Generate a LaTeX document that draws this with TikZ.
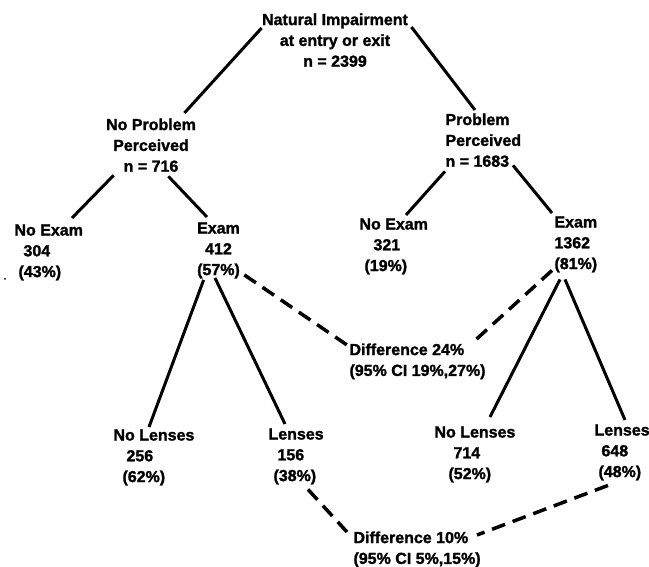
\documentclass[tikz,border=0pt]{standalone}
\usepackage{fontspec}
\setmainfont{Liberation Sans}[BoldFeatures = {FakeBold = 1.5}]
\begin{document}
\begin{tikzpicture}[x = 1pt, y = -1pt, line width = 3pt,
        every node/.style = {inner sep = 0pt, font = \fontsize{16}{20.8}\selectfont\bfseries},
        diff/.style = {line width = 3.5pt, dash pattern = on 14pt off 8pt}]

        \useasboundingbox (0, 0) rectangle (649, 567);

        \node (root) at (335, 12) [anchor = north, align = center] {Natural Impairment\\at entry or exit\\n = 2399};

        \node (np) at (151, 117) [anchor = north, align = center] {No Problem\\Perceived\\n = 716};
        \node (pp) at (444, 112) [anchor = north west, align = left] {Problem\\Perceived\\n = 1683};

        \node (ne1) at (13, 223) [anchor = north west, align = left] {No Exam\\\hspace*{9pt}304\\\hspace*{4pt}(43\%)};
        \node (ex1) at (218.5, 221) [anchor = north, align = center] {Exam\\412\\(57\%)};
        \node (ne2) at (358, 217) [anchor = north west, align = left] {No Exam\\\hspace*{14pt}321\\\hspace*{5pt}(19\%)};
        \node (ex2) at (553, 215) [anchor = north west, align = left] {Exam\\1362\\(81\%)};

        \node (nl1) at (112, 428) [anchor = north west, align = left] {No Lenses\\\hspace*{13pt}256\\\hspace*{9pt}(62\%)};
        \node (le1) at (267, 427) [anchor = north west, align = left] {Lenses\\\hspace*{9pt}156\\\hspace*{5pt}(38\%)};
        \node (nl2) at (433, 425) [anchor = north west, align = left] {No Lenses\\\hspace*{19pt}714\\\hspace*{14pt}(52\%)};
        \node (le2) at (593, 423) [anchor = north west, align = left] {Lenses\\\hspace*{7pt}648\\\hspace*{4pt}(48\%)};

        \node (d1) at (348, 342) [anchor = north west, align = left] {Difference 24\%\\(95\% CI 19\%,27\%)};
        \node (d2) at (352, 530) [anchor = north west, align = left] {Difference 10\%\\(95\% CI 5\%,15\%)};

        \draw ([shift = {(1, 16)}]root.north west) -- ([shift = {(-13, -4)}]np.north east);
        \draw ([shift = {(2, 15)}]root.north east) -- ([shift = {(31, -2)}]pp.north west);

        \draw ([shift = {(9, 2)}]np.south west) -- ([shift = {(59, -5)}]ne1.north west);
        \draw ([shift = {(-29, 3)}]np.south east) -- ([shift = {(-11.5, -4)}]ex1.north);
        \draw ([shift = {(1, 3)}]pp.south west) -- ([shift = {(48, -2)}]ne2.north west);
        \draw ([shift = {(-9.6, -3)}]pp.south east) -- ([shift = {(-1, -2)}]ex2.north west);

        \draw ([shift = {(8, 0)}]ex1.south west) -- ([shift = {(37, -1)}]nl1.north west);
        \draw ([shift = {(-3.5, -2)}]ex1.south) -- ([shift = {(18, -3)}]le1.north west);
        \draw ([shift = {(7, 5.5)}]ex2.south west) -- ([shift = {(57, -8)}]nl2.north west);
        \draw ([shift = {(12, 5.5)}]ex2.south west) -- ([shift = {(32, -3)}]le2.north west);

        \draw [diff] ([shift = {(3, -5)}]ex1.south east) -- ([shift = {(-1, 3)}]d1.north west);
        \draw [diff, shorten > = 2pt] ([shift = {(-1, -3.5)}]ex2.south west) -- ([shift = {(122, 3)}]d1.north west);
        \draw [diff] ([shift = {(41, 3.5)}]le1.south west) -- ([shift = {(-5, 2)}]d2.north west);
        \draw [diff] ([shift = {(15, 3.5)}]le2.south west) -- ([shift = {(125, 5)}]d2.north west);

        \fill (5, 279) circle (1);

    \end{tikzpicture}
\end{document}
